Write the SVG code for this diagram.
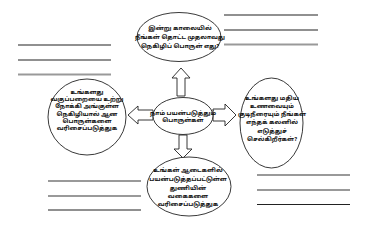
<svg xmlns="http://www.w3.org/2000/svg" width="367" height="231" viewBox="0 0 367 231">
<style>
.n{fill:#fff;stroke:#222;stroke-width:0.9}
.t{font-family:'Noto Sans Tamil','Noto Sans','DejaVu Sans',sans-serif;font-size:6px;font-weight:bold;fill:#111;text-anchor:middle}
.a{fill:#fff;stroke:#222;stroke-width:0.9;stroke-linejoin:miter}
.d{stroke:#222;stroke-width:1.2}
.g{stroke:#999;stroke-width:1.8}
</style>
<rect width="367" height="231" fill="#fff"/>
<g id="lines">
<line class="d" x1="224" y1="15" x2="318" y2="15"/>
<line class="d" x1="224" y1="30" x2="318" y2="30"/>
<line class="g" x1="224" y1="44.5" x2="318" y2="44.5"/>
<line class="d" x1="18" y1="45" x2="111" y2="45"/>
<line class="d" x1="18" y1="60" x2="111" y2="60"/>
<line class="g" x1="18" y1="74.5" x2="111" y2="74.5"/>
<line class="g" x1="48" y1="181" x2="141" y2="181"/>
<line class="g" x1="48" y1="196" x2="141" y2="196"/>
<line class="d" x1="48" y1="210" x2="141" y2="210"/>
<line class="g" x1="257" y1="175" x2="350" y2="175"/>
<line class="g" x1="257" y1="190" x2="350" y2="190"/>
<line class="d" x1="257" y1="204.5" x2="350" y2="204.5"/>
</g>
<g id="connectors">
<polygon class="a" points="181,68 190,78 185,78 185,96 177,96 177,78 172,78"/>
<polygon class="a" points="183,158 192,149 187,149 187,135 179,135 179,149 174,149"/>
<polygon class="a" points="128,115 138,106 138,110 153,110 153,120 138,120 138,124"/>
<polygon class="a" points="236,115 225,104 225,109 213,109 213,121 225,121 225,126"/>
</g>
<g id="center">
<ellipse class="n" cx="183" cy="116" rx="30" ry="18.5"/>
<text class="t" x="183" y="114.5">நாம் பயன்படுத்தும்</text>
<text class="t" x="183" y="121.5">பொருள்கள்</text>
</g>
<g id="top">
<ellipse class="n" cx="179" cy="37" rx="42" ry="24.5"/>
<text class="t" x="180" y="30">இன்று காலையில்</text>
<text class="t" x="180" y="39">நீங்கள் தொட்ட முதலாவது</text>
<text class="t" x="180" y="48">நெகிழிப் பொருள் எது?</text>
</g>
<g id="left">
<ellipse class="n" cx="87" cy="117" rx="39" ry="38"/>
<text class="t" x="87" y="93.5">உங்களது</text>
<text class="t" x="87" y="101">வகுப்பறையை உற்று</text>
<text class="t" x="87" y="108.3">நோக்கி அங்குள்ள</text>
<text class="t" x="87" y="115.6">நெகிழியால் ஆன</text>
<text class="t" x="87" y="123">பொருள்களை</text>
<text class="t" x="87" y="130.4">வரிசைப்படுத்துக</text>
</g>
<g id="right">
<ellipse class="n" cx="271.5" cy="123" rx="31.5" ry="45"/>
<text class="t" x="272" y="99.5">உங்களது மதிய</text>
<text class="t" x="272" y="108">உணவையும்</text>
<text class="t" x="272" y="116.2">குடிநீரையும் நீங்கள்</text>
<text class="t" x="272" y="124.4">எந்தக் கலனில்</text>
<text class="t" x="272" y="132.5">எடுத்துச்</text>
<text class="t" x="272" y="140.8">செல்கிறீர்கள்?</text>
</g>
<g id="bottom">
<ellipse class="n" cx="189" cy="186.5" rx="42" ry="29.5"/>
<text class="t" x="188" y="172">உங்கள் ஆடைகளில்</text>
<text class="t" x="188" y="181.3">பயன்படுத்தப்பட்டுள்ள</text>
<text class="t" x="188" y="189.7">துணியின்</text>
<text class="t" x="188" y="197.8">வகைகளை</text>
<text class="t" x="188" y="205.5">வரிசைப்படுத்துக</text>
</g>
</svg>
